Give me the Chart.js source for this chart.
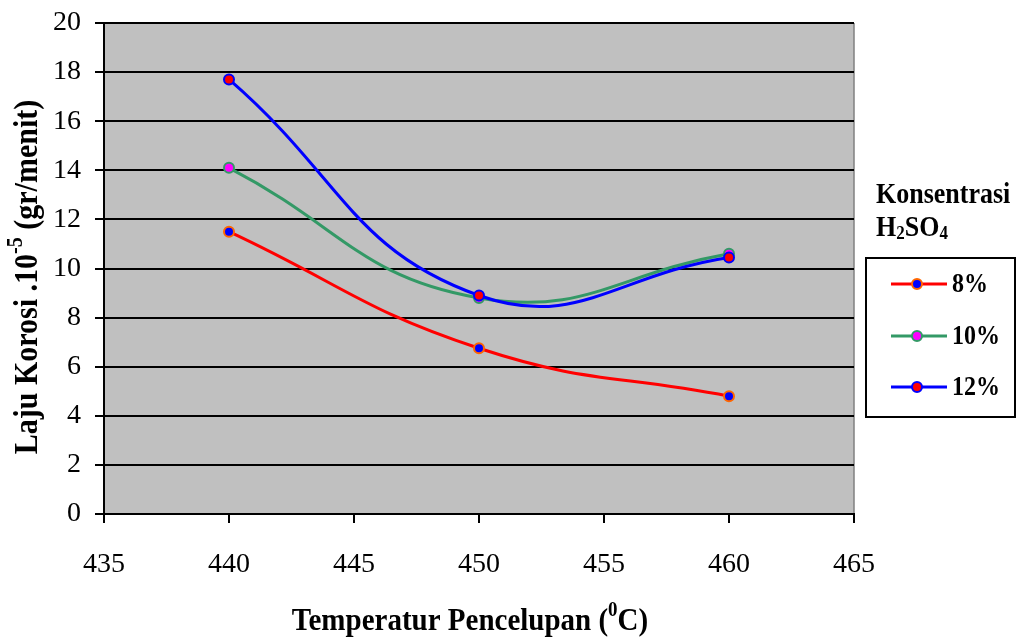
<!DOCTYPE html>
<html>
<head>
  <title>Laju Korosi</title>
  <script src="https://cdn.jsdelivr.net/npm/chart.js"></script>
  <style>
    html, body { margin: 0; padding: 0; background: #fff; }
    #wrap { width: 1018px; height: 638px; }
  </style>
</head>
<body>
  <div id="wrap"><canvas id="chart"></canvas></div>
  <script>
    // data
    const temps = [440, 450, 460];
    const seriesNames = ['8%', '10%', '12%'];
    const conc8 = [11.5, 6.75, 4.8];
    const conc10 = [14.1, 8.8, 10.6];
    const conc12 = [17.7, 8.9, 10.45];
    const xTicks = [435, 440, 445, 450, 455, 460, 465];
    const yTicks = [0, 2, 4, 6, 8, 10, 12, 14, 16, 18, 20];

    const FONT = "'Liberation Serif', 'Times New Roman', serif";
    const STRETCH = 1.12; // the original text is a bit taller than normal

    function pts(vals) {
      return temps.map((t, i) => ({ x: t, y: vals[i] }));
    }

    function makeSet(label, vals, line, fill, edge, order) {
      return {
        label: label,
        data: pts(vals),
        borderColor: line,
        borderWidth: 3,
        pointBackgroundColor: fill,
        pointBorderColor: edge,
        pointBorderWidth: 2,
        pointRadius: 5,
        tension: 0.45,
        order: order
      };
    }

    // grey plot area + right border
    const plotBg = {
      id: 'plotBg',
      beforeDraw(chart) {
        const a = chart.chartArea, ctx = chart.ctx;
        ctx.save();
        ctx.fillStyle = '#C0C0C0';
        ctx.fillRect(a.left, a.top, a.right - a.left, a.bottom - a.top);
        ctx.strokeStyle = '#808080';
        ctx.lineWidth = 1.5;
        ctx.beginPath();
        ctx.moveTo(a.right, a.top);
        ctx.lineTo(a.right, a.bottom);
        ctx.stroke();
        ctx.restore();
      }
    };

    // draw text made of pieces, some raised or lowered
    function drawPieces(ctx, pieces, x, y, size, align) {
      const small = Math.round(size * 0.65);
      let total = 0;
      pieces.forEach(p => {
        ctx.font = 'bold ' + (p.s ? small : size) + 'px ' + FONT;
        p.w = ctx.measureText(p.t).width;
        total += p.w;
      });
      ctx.save();
      ctx.translate(x, y);
      ctx.scale(1, STRETCH);
      let cx = align === 'center' ? -total / 2 : 0;
      pieces.forEach(p => {
        ctx.font = 'bold ' + (p.s ? small : size) + 'px ' + FONT;
        let dy = 0;
        if (p.s === 'sup') dy = -size * 0.36;
        if (p.s === 'sub') dy = size * 0.22;
        ctx.fillText(p.t, cx, dy);
        cx += p.w;
      });
      ctx.restore();
    }

    const titles = {
      id: 'titles',
      afterDraw(chart) {
        const ctx = chart.ctx;
        ctx.save();
        ctx.fillStyle = '#000';
        ctx.textBaseline = 'middle';
        // x title
        drawPieces(ctx, [
          { t: 'Temperatur Pencelupan (' },
          { t: '0', s: 'sup' },
          { t: 'C)' }
        ], 470, 622, 29, 'center');
        // y title
        ctx.save();
        ctx.translate(28, 277);
        ctx.rotate(-Math.PI / 2);
        drawPieces(ctx, [
          { t: 'Laju Korosi .10' },
          { t: '-5', s: 'sup' },
          { t: ' (gr/menit)' }
        ], 0, 0, 30, 'center');
        ctx.restore();

        // legend title
        drawPieces(ctx, [{ t: 'Konsentrasi' }], 876, 195, 26, 'left');
        drawPieces(ctx, [
          { t: 'H' }, { t: '2', s: 'sub' }, { t: 'SO' }, { t: '4', s: 'sub' }
        ], 876, 228, 26, 'left');

        // legend box
        ctx.strokeStyle = '#000';
        ctx.lineWidth = 2;
        ctx.strokeRect(866, 258, 149, 159);
        const rows = [284, 336, 387];
        chart.data.datasets.forEach((ds, i) => {
          const y = rows[i];
          ctx.strokeStyle = ds.borderColor;
          ctx.lineWidth = 3;
          ctx.beginPath();
          ctx.moveTo(891, y);
          ctx.lineTo(947, y);
          ctx.stroke();
          ctx.beginPath();
          ctx.arc(917, y, 5, 0, Math.PI * 2);
          ctx.fillStyle = ds.pointBackgroundColor;
          ctx.fill();
          ctx.lineWidth = 2;
          ctx.strokeStyle = ds.pointBorderColor;
          ctx.stroke();
          ctx.fillStyle = '#000';
          drawPieces(ctx, [{ t: ds.label }], 952, y + 1, 24, 'left');
        });
        ctx.restore();
      }
    };

    new Chart(document.getElementById('chart'), {
      type: 'line',
      data: {
        datasets: [
          makeSet(seriesNames[0], conc8, '#FF0000', '#0000FF', '#FF6600', 3),
          makeSet(seriesNames[1], conc10, '#339966', '#FF00FF', '#339966', 2),
          makeSet(seriesNames[2], conc12, '#0000FF', '#FF0000', '#0000FF', 1)
        ]
      },
      options: {
        responsive: true,
        maintainAspectRatio: false,
        animation: false,
        layout: { padding: { top: 23, right: 164, left: 0, bottom: 0 } },
        plugins: {
          legend: { display: false },
          tooltip: { enabled: false }
        },
        scales: {
          x: {
            type: 'linear',
            min: xTicks[0],
            max: xTicks[xTicks.length - 1],
            afterBuildTicks(scale) { scale.ticks = xTicks.map(v => ({ value: v })); },
            afterFit(scale) { scale.height = 124; scale.paddingLeft = 0; scale.paddingRight = 0; },
            grid: { drawOnChartArea: false, color: '#000', lineWidth: 2, tickLength: 9 },
            border: { color: '#000', width: 2 },
            ticks: { color: '#000', padding: 25, font: { family: FONT, size: 28 }, maxRotation: 0 }
          },
          y: {
            min: yTicks[0],
            max: yTicks[yTicks.length - 1],
            afterBuildTicks(scale) { scale.ticks = yTicks.map(v => ({ value: v })); },
            afterFit(scale) { scale.width = 104; scale.paddingTop = 0; scale.paddingBottom = 0; },
            grid: { color: '#000', lineWidth: 2, tickLength: 9 },
            border: { color: '#000', width: 2 },
            ticks: { color: '#000', padding: 14, font: { family: FONT, size: 28 } }
          }
        }
      },
      plugins: [plotBg, titles]
    });
  </script>
</body>
</html>
